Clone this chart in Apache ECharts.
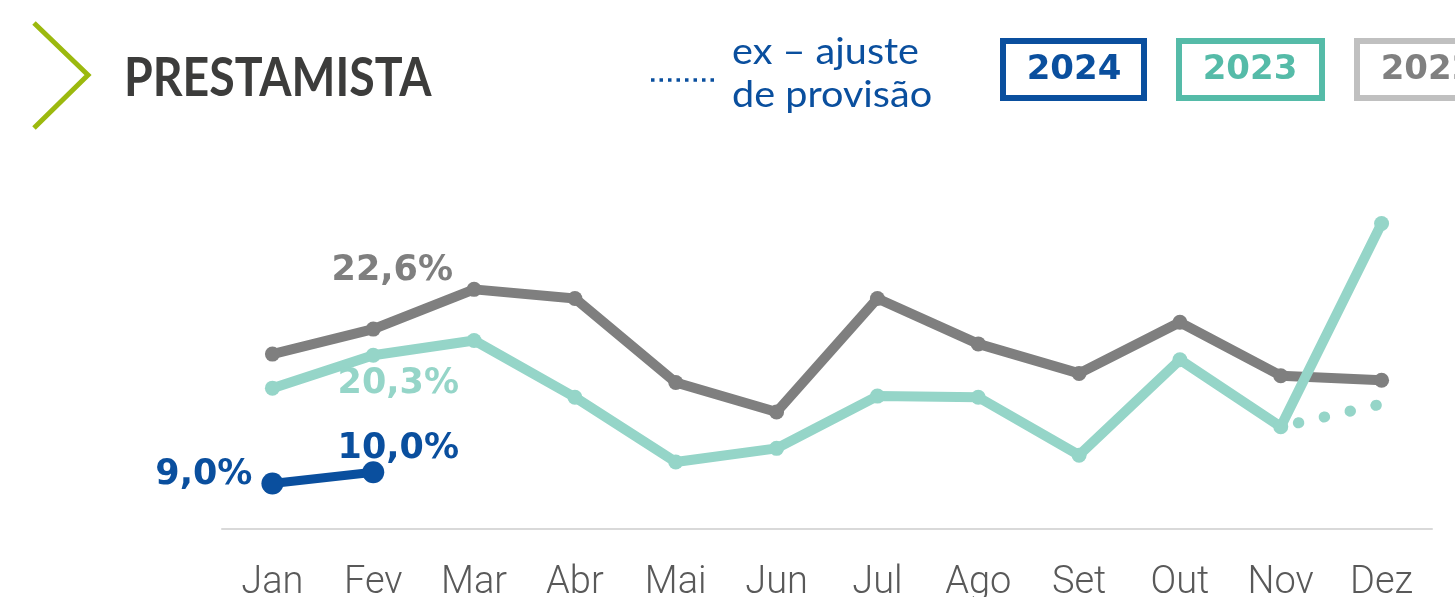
<!DOCTYPE html>
<html>
<head>
<meta charset="utf-8">
<script src="https://cdn.jsdelivr.net/npm/echarts@6/dist/echarts.min.js"></script>
<style>
  html, body { margin: 0; padding: 0; background: #fff; }
  #chart { width: 1455px; height: 597px; }
</style>
</head>
<body>
<div id="chart"></div>
<script>
// meses
const months = ['Jan', 'Fev', 'Mar', 'Abr', 'Mai', 'Jun', 'Jul', 'Ago', 'Set', 'Out', 'Nov', 'Dez']
// sinistralidade por ano (%)
const y2022 = [20.4, 22.6, 26.1, 25.3, 17.9, 15.3, 25.3, 21.3, 18.7, 23.2, 18.5, 18.1]
const y2023 = [17.4, 20.3, 21.6, 16.6, 10.9, 12.1, 16.7, 16.6, 11.5, 19.9, 14.0, 31.9]
const y2024 = [9.0, 10.0]
// ex - ajuste de provisão (2023, Nov -> Dez)
const exAjuste = [null, null, null, null, null, null, null, null, null, null, 14.0, 16.0]

const GRAY = '#7f7f7f'
const TEAL = '#95d5c8'
const BLUE = '#0a4f9e'

const fmt = (p) => p.value.toFixed(1).replace('.', ',') + '%'
const labelFont = { fontFamily: 'DejaVu Sans', fontWeight: 'bold', fontSize: 35 }

// rótulo só em alguns pontos
function withLabels(arr, labels) {
  return arr.map((v, i) => (labels[i] ? { value: v, label: labels[i] } : v))
}

const chart = echarts.init(document.getElementById('chart'))

const option = {
  animation: false,
  grid: { left: 222, right: 23, top: 131.5, bottom: 68, outerBoundsMode: 'none', containLabel: false },
  xAxis: {
    type: 'category',
    data: months,
    boundaryGap: true,
    axisLine: { lineStyle: { color: '#d9d9d9', width: 2 } },
    axisTick: { show: false },
    axisLabel: {
      color: '#595959',
      fontFamily: 'Roboto',
      fontWeight: 300,
      fontSize: 38,
      margin: 35
    }
  },
  yAxis: {
    type: 'value',
    min: 5,
    max: 40,
    show: false,
    splitLine: { show: false }
  },
  graphic: [
    {
      type: 'polyline',
      shape: { points: [[34, 23], [88, 75], [34, 128]] },
      style: { stroke: '#9cb90e', lineWidth: 5, fill: null }
    },
    {
      type: 'text',
      x: 124,
      y: 79,
      scaleX: 0.86,
      style: {
        text: 'PRESTAMISTA',
        fill: '#3c3c3b',
        font: 'bold 54px Lato',
        verticalAlign: 'middle'
      }
    },
    {
      type: 'line',
      shape: { x1: 651, y1: 80, x2: 719, y2: 80 },
      style: { stroke: BLUE, lineWidth: 3.5, lineDash: [3.5, 5] }
    },
    {
      type: 'text',
      x: 732,
      y: 31,
      scaleX: 1.1,
      style: {
        text: 'ex – ajuste\nde provisão',
        fill: BLUE,
        font: '36px Lato',
        lineHeight: 43
      }
    },
    {
      type: 'rect',
      shape: { x: 1003, y: 41, width: 141, height: 57 },
      style: { stroke: '#0a4f9e', lineWidth: 6, fill: null }
    },
    {
      type: 'text',
      x: 1074, y: 70,
      style: { text: '2024', fill: '#0a4f9e', font: 'bold 34px "DejaVu Sans"', align: 'center', verticalAlign: 'middle' }
    },
    {
      type: 'rect',
      shape: { x: 1179, y: 41, width: 143, height: 57 },
      style: { stroke: '#55bba8', lineWidth: 6, fill: null }
    },
    {
      type: 'text',
      x: 1250, y: 70,
      style: { text: '2023', fill: '#55bba8', font: 'bold 34px "DejaVu Sans"', align: 'center', verticalAlign: 'middle' }
    },
    {
      type: 'rect',
      shape: { x: 1357, y: 41, width: 143, height: 57 },
      style: { stroke: '#c0c0c0', lineWidth: 6, fill: null }
    },
    {
      type: 'text',
      x: 1428, y: 70,
      style: { text: '2022', fill: '#808080', font: 'bold 34px "DejaVu Sans"', align: 'center', verticalAlign: 'middle' }
    }
  ],
  series: [
    {
      name: '2022',
      type: 'line',
      data: withLabels(y2022, {
        1: { show: true, position: 'top', offset: [19, -28], color: GRAY, ...labelFont, formatter: fmt }
      }),
      symbol: 'circle',
      symbolSize: 15,
      lineStyle: { color: GRAY, width: 10 },
      itemStyle: { color: GRAY },
      z: 2
    },
    {
      name: '2023',
      type: 'line',
      data: withLabels(y2023, {
        1: { show: true, position: 'bottom', offset: [25, -1], color: TEAL, ...labelFont, formatter: fmt }
      }),
      symbol: 'circle',
      symbolSize: 15,
      lineStyle: { color: TEAL, width: 10 },
      itemStyle: { color: TEAL },
      z: 3
    },
    {
      name: 'ex – ajuste de provisão',
      type: 'line',
      data: exAjuste,
      symbol: 'none',
      lineStyle: { color: TEAL, width: 11, type: [0.5, 26], dashOffset: -18, cap: 'round' },
      z: 3
    },
    {
      name: '2024',
      type: 'line',
      data: withLabels(y2024, {
        0: { show: true, position: 'left', offset: [-4, -9], color: BLUE, ...labelFont, formatter: fmt },
        1: { show: true, position: 'top', offset: [25, 10], color: BLUE, ...labelFont, formatter: fmt }
      }),
      symbol: 'circle',
      symbolSize: 22,
      lineStyle: { color: BLUE, width: 9 },
      itemStyle: { color: BLUE },
      z: 4
    }
  ]
}

chart.setOption(option)
</script>
</body>
</html>
